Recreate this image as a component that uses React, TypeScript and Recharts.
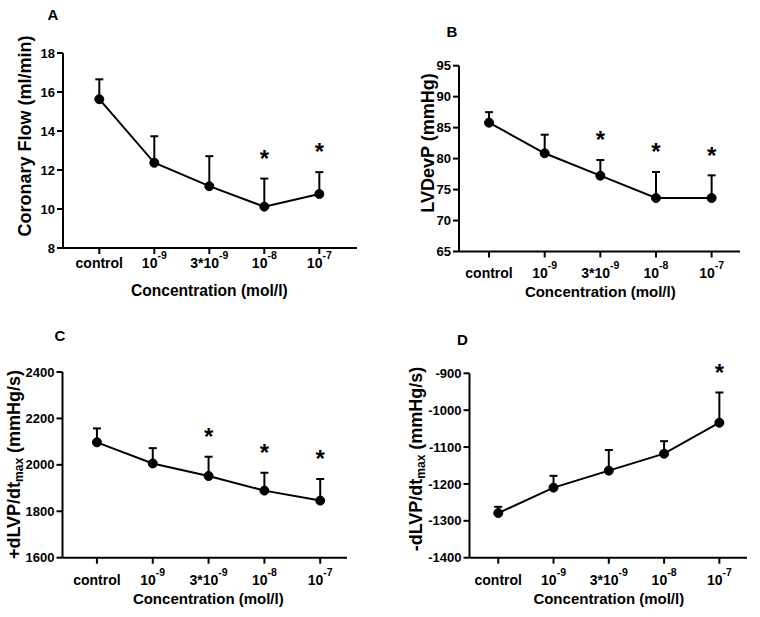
import React from 'react';
import { LineChart, Line, XAxis, YAxis, ErrorBar, LabelList } from 'recharts';

const W = 760;
const H = 617;
const FONT = '"Liberation Sans", Arial, Helvetica, sans-serif';

// Categories / tick labels
const categories = ['control', '10^-9', '3*10^-9', '10^-8', '10^-7'];
const tickBase = ['control', '10', '3*10', '10', '10'];
const tickExp = ['', '-9', '-9', '-8', '-7'];

// Panel A: Coronary flow (ml/min)
const flowMean = [15.63, 12.37, 11.17, 10.12, 10.77];
const flowErr = [1.02, 1.36, 1.54, 1.44, 1.12];
const flowSig = [false, false, false, true, true];
const flowTicks = [8, 10, 12, 14, 16, 18];

// Panel B: LVDevP (mmHg)
const lvdpMean = [85.8, 80.86, 77.24, 73.64, 73.64];
const lvdpErr = [1.7, 3.0, 2.53, 4.2, 3.66];
const lvdpSig = [false, false, true, true, true];
const lvdpTicks = [65, 70, 75, 80, 85, 90, 95];

// Panel C: +dLVP/dtmax (mmHg/s)
const plusMean = [2097, 2006, 1952, 1889, 1846];
const plusErr = [60, 66, 83, 77, 93];
const plusSig = [false, false, true, true, true];
const plusTicks = [1600, 1800, 2000, 2200, 2400];

// Panel D: -dLVP/dtmax (mmHg/s)
const minusMean = [-1279, -1210, -1164, -1118, -1034];
const minusErr = [17, 32, 56, 34, 82];
const minusSig = [false, false, false, false, true];
const minusTicks = [-1400, -1300, -1200, -1100, -1000, -900];

const buildRows = (mean: number[], err: number[]) =>
  categories.map((c, i) => ({
    i,
    cat: c,
    mean: mean[i],
    errPair: [0, err[i]],
    upper: mean[i] + err[i],
  }));

type PanelCfg = {
  letter: string;
  letterX: number;
  letterY: number;
  rows: any[];
  sig: boolean[];
  ticks: number[];
  yTitle: React.ReactNode;
  yTitleX: number;
  yTitleY: number;
  plotLeft: number;
  plotRight: number;
  plotTop: number;
  plotBottom: number;
  xDomain: [number, number];
  tickBelow: number;
  xTitleX: number;
  xTitleY: number;
  xTitleSize: number;
};

const dtTitle = (sign: string) => (
  <>
    {sign + 'dLVP/dt'}
    <tspan dy={5} fontSize={12}>max</tspan>
    <tspan dy={-5}> (mmHg/s)</tspan>
  </>
);

const panels: PanelCfg[] = [
  {
    letter: 'A', letterX: 53, letterY: 20.4,
    rows: buildRows(flowMean, flowErr), sig: flowSig, ticks: flowTicks,
    yTitle: 'Coronary Flow (ml/min)', yTitleX: 25, yTitleY: 136,
    plotLeft: 63, plotRight: 357, plotTop: 53, plotBottom: 248,
    xDomain: [-0.66, 4.685], tickBelow: 20,
    xTitleX: 209.3, xTitleY: 296, xTitleSize: 15.6,
  },
  {
    letter: 'B', letterX: 452, letterY: 36.7,
    rows: buildRows(lvdpMean, lvdpErr), sig: lvdpSig, ticks: lvdpTicks,
    yTitle: 'LVDevP (mmHg)', yTitleX: 427.5, yTitleY: 143,
    plotLeft: 459, plotRight: 740, plotTop: 65.7, plotBottom: 251.5,
    xDomain: [-0.54, 4.51], tickBelow: 26,
    xTitleX: 600.3, xTitleY: 296.8, xTitleSize: 15,
  },
  {
    letter: 'C', letterX: 60, letterY: 341.4,
    rows: buildRows(plusMean, plusErr), sig: plusSig, ticks: plusTicks,
    yTitle: dtTitle('+'), yTitleX: 14, yTitleY: 464.5,
    plotLeft: 62.5, plotRight: 347, plotTop: 372, plotBottom: 557.7,
    xDomain: [-0.617, 4.48], tickBelow: 27,
    xTitleX: 208.3, xTitleY: 604, xTitleSize: 15,
  },
  {
    letter: 'D', letterX: 462.3, letterY: 344.9,
    rows: buildRows(minusMean, minusErr), sig: minusSig, ticks: minusTicks,
    yTitle: dtTitle('-'), yTitleX: 416, yTitleY: 459,
    plotLeft: 469.5, plotRight: 747, plotTop: 373.3, plotBottom: 557.7,
    xDomain: [-0.52, 4.5], tickBelow: 27,
    xTitleX: 608.8, xTitleY: 604, xTitleSize: 15,
  },
];

const makeCatTick = (below: number) => (props: any) => {
  const { x, y, payload } = props;
  const idx = Math.round(Number(payload.value));
  const base = tickBase[idx];
  const exp = tickExp[idx];
  return (
    <text
      x={x}
      y={y - 6 + below}
      textAnchor="middle"
      fontFamily={FONT}
      fontWeight="bold"
      fontSize={14}
      fill="#000"
    >
      {base}
      {exp ? (
        <tspan dy={-9} fontSize={10.5}>
          {exp}
        </tspan>
      ) : null}
    </text>
  );
};

const makeStar = (sig: boolean[]) => (props: any) => {
  const idx = props.index;
  if (idx == null || !sig[idx]) return null;
  const x = props.x ?? props.viewBox?.x;
  const y = props.y ?? props.viewBox?.y;
  if (x == null || y == null) return null;
  const fs = 24;
  return (
    <text
      x={x}
      y={y - 25.5 + 0.575 * fs}
      textAnchor="middle"
      fontFamily={FONT}
      fontWeight="bold"
      fontSize={fs}
      fill="#000"
    >
      *
    </text>
  );
};

const Panel = ({ p }: { p: PanelCfg }) => {
  const xAxisH = 40;
  const margin = {
    top: p.plotTop,
    right: W - p.plotRight,
    bottom: H - p.plotBottom - xAxisH,
    left: 0,
  };
  const yDomain: [number, number] = [p.ticks[0], p.ticks[p.ticks.length - 1]];
  const yLabel = () => (
    <g>
      <text
        x={p.letterX}
        y={p.letterY}
        textAnchor="middle"
        fontFamily={FONT}
        fontWeight="bold"
        fontSize={15}
        fill="#000"
      >
        {p.letter}
      </text>
      <text
        x={p.yTitleX}
        y={p.yTitleY}
        transform={`rotate(-90, ${p.yTitleX}, ${p.yTitleY})`}
        textAnchor="middle"
        dominantBaseline="central"
        fontFamily={FONT}
        fontWeight="bold"
        fontSize={18}
        fill="#000"
      >
        {p.yTitle}
      </text>
    </g>
  );
  const xLabel = () => (
    <text
      x={p.xTitleX}
      y={p.xTitleY}
      textAnchor="middle"
      fontFamily={FONT}
      fontWeight="bold"
      fontSize={p.xTitleSize}
      fill="#000"
    >
      Concentration (mol/l)
    </text>
  );
  return (
    <div style={{ position: 'absolute', left: 0, top: 0, width: W, height: H }}>
      <LineChart width={W} height={H} data={p.rows} margin={margin}>
        <XAxis
          dataKey="i"
          type="number"
          domain={p.xDomain}
          ticks={[0, 1, 2, 3, 4]}
          interval={0}
          height={xAxisH}
          tickSize={6}
          tickMargin={0}
          axisLine={{ stroke: '#000', strokeWidth: 2 }}
          tickLine={{ stroke: '#000', strokeWidth: 2 }}
          tick={makeCatTick(p.tickBelow)}
          label={xLabel}
        />
        <YAxis
          type="number"
          domain={yDomain}
          ticks={p.ticks}
          interval={0}
          width={p.plotLeft}
          tickSize={6}
          tickMargin={2}
          axisLine={{ stroke: '#000', strokeWidth: 2 }}
          tickLine={{ stroke: '#000', strokeWidth: 2 }}
          tick={{ fill: '#000', fontSize: 13, fontWeight: 'bold', fontFamily: FONT }}
          label={yLabel}
        />
        <Line
          dataKey="mean"
          type="linear"
          stroke="#000"
          strokeWidth={2}
          dot={{ r: 4.5, fill: '#000', stroke: '#000', strokeWidth: 1 }}
          activeDot={false}
          isAnimationActive={false}
        >
          <ErrorBar
            dataKey="errPair"
            direction="y"
            width={4}
            stroke="#000"
            strokeWidth={2}
            isAnimationActive={false}
          />
        </Line>
        <Line
          dataKey="upper"
          type="linear"
          stroke="none"
          dot={false}
          activeDot={false}
          isAnimationActive={false}
        >
          <LabelList dataKey="upper" content={makeStar(p.sig)} />
        </Line>
      </LineChart>
    </div>
  );
}

export default function App() {
  return (
    <div
      style={{
        position: 'absolute',
        left: 0,
        top: 0,
        width: W,
        height: H,
        background: '#fff',
        fontFamily: FONT,
      }}
    >
      {panels.map((p) => (
        <Panel key={p.letter} p={p} />
      ))}
    </div>
  );
}
